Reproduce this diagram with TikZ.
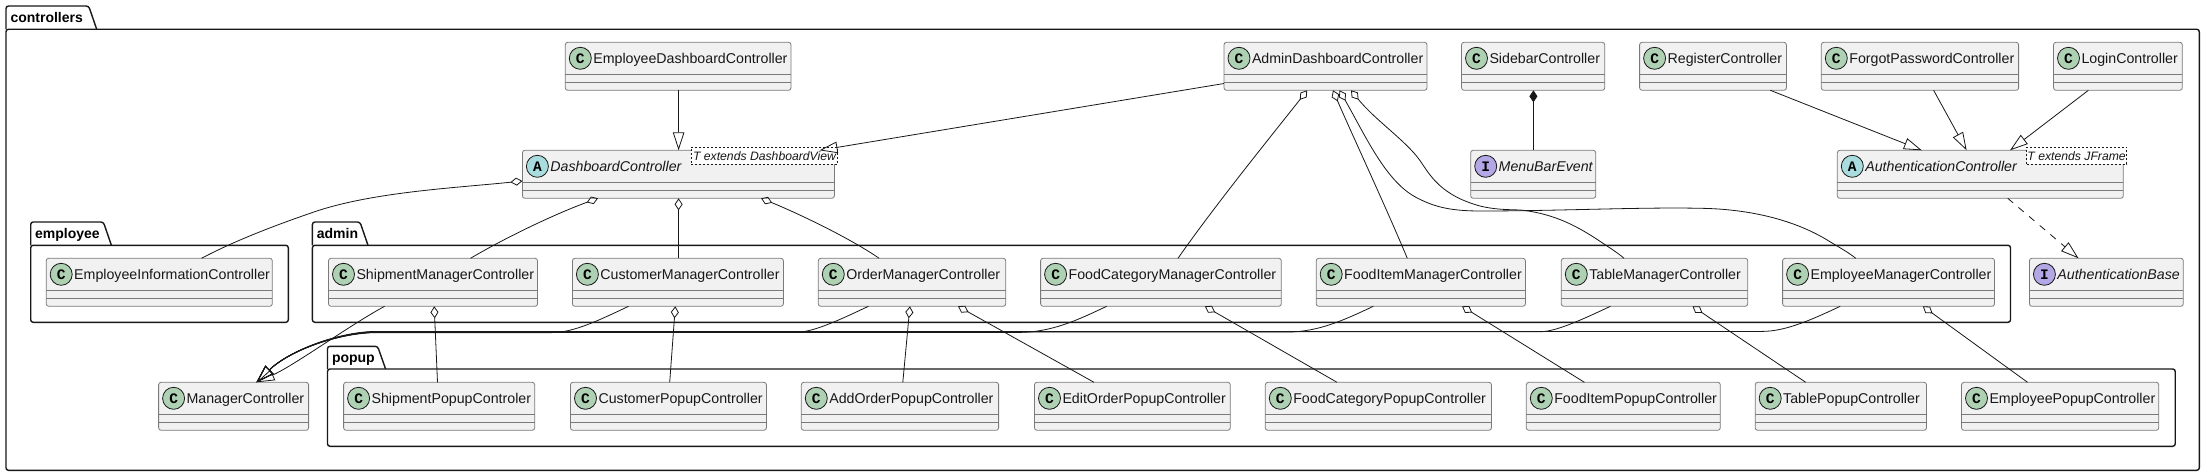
\documentclass[tikz,border=0pt]{standalone}
\usepackage{fontspec}
\setmainfont{Liberation Sans}
\setmonofont{Liberation Mono}
\usetikzlibrary{arrows.meta}
\definecolor{ink}{HTML}{181818}
\definecolor{boxfill}{HTML}{F1F1F1}
\definecolor{boxline}{HTML}{7A7A7A}
\definecolor{badgeC}{HTML}{ADD1B2}
\definecolor{badgeA}{HTML}{A9DCDF}
\definecolor{badgeI}{HTML}{B4A7E5}
\tikzset{
  classbox/.style={draw=boxline,fill=boxfill,line width=0.8pt,rounded corners=2.5pt,outer sep=0pt,
    inner ysep=0pt,inner xsep=28pt,text height=21pt,text depth=27pt,font=\fontsize{14.2}{16}\selectfont,text=ink},
  classsep/.style={draw=boxline,line width=0.8pt},
  badge/.style={circle,draw=ink,line width=0.8pt,minimum size=22pt,inner sep=0pt,outer sep=0pt,
    font=\fontsize{14.5}{16}\selectfont\ttfamily\bfseries,text=black},
  genericbox/.style={draw=ink,fill=white,line width=0.6pt,dash pattern=on 2pt off 2pt,inner sep=0pt,outer sep=0pt,
    font=\fontsize{12.2}{14}\selectfont\itshape,text=ink},
  pkgline/.style={draw=ink,line width=1.4pt,rounded corners=2.5pt},
  pkglabel/.style={anchor=base west,inner sep=0pt,outer sep=0pt,font=\fontsize{14}{16}\selectfont\bfseries,text=black},
  link/.style={draw=ink,line width=0.8pt},
  extlink/.style={link,-{Triangle[open,length=18pt,width=11.5pt]}},
  realink/.style={link,dash pattern=on 7pt off 7pt,-{Triangle[open,length=18pt,width=11.5pt]}},
  aggline/.style={link,{Diamond[open,length=12pt,width=8pt]}-},
  compline/.style={link,{Diamond[length=12pt,width=8pt,fill=ink]}-},
}
% name, x1, x2, y1, badge colour, letter, text
\newcommand{\classitem}[7]{%
  \pgfmathsetmacro{\cw}{#3-#2}\pgfmathsetmacro{\tw}{\cw-56}%
  \node[classbox,minimum width=\cw pt,minimum height=48pt] (#1) at ({(#2+#3)/2},{#4+24})
    {\makebox[\tw pt][l]{#7}};
  \draw[classsep] ([yshift=-32pt]#1.north west) -- ([yshift=-32pt]#1.north east);
  \draw[classsep] ([yshift=-40pt]#1.north west) -- ([yshift=-40pt]#1.north east);
  \node[badge,fill=#5] (#1b) at ({#2+15},{#4+16}) {#6};
}
% name, x1, x2, tab top, body top, bottom, tab right, label
\newcommand{\pkgitem}[8]{%
  \draw[pkgline] (#2,#5) -- (#2,#4) -- ({#7-8},#4) -- (#7,#5);
  \draw[pkgline] (#2,#5) -- (#3,#5) -- (#3,#6) -- (#2,#6) -- cycle;
  \node[pkglabel] (#1) at ({#2+4.5},{#4+16.6}) {#8};
}
% link from a manager class down into the bus that runs to ManagerController
\newcommand{\buslink}[4]{%
  \draw[extlink] (#1.south -| #2,0) .. controls ({#2-29},320) and ({#2-55},{#4}) .. (#3,#4)
    -- (377,#4) .. controls (340,#4) and (290,350) .. (mgr.north -| 256.5,0);
}
\begin{document}
\begin{tikzpicture}[x=1pt,y=-1pt]
\useasboundingbox (0,0) rectangle (2205,476);
\fill[white] (0,0) rectangle (2205,476);

\pkgitem{pcontrollers}{6}{2199.3}{6}{29.3}{470.3}{96.7}{controllers}
\pkgitem{pemployee}{30.7}{288.3}{222}{245.3}{322.3}{111.4}{employee}
\pkgitem{padmin}{312.4}{2010.5}{222}{245.3}{322.3}{368}{admin}
\pkgitem{ppopup}{327.5}{2175.2}{346.3}{369}{446.3}{385.6}{popup}

% row 1
\classitem{edc}{565.3}{791}{42.3}{badgeC}{C}{EmployeeDashboardController}
\classitem{adc}{1224}{1427}{42.3}{badgeC}{C}{AdminDashboardController}
\classitem{sbc}{1461.5}{1604.7}{42.3}{badgeC}{C}{SidebarController}
\classitem{reg}{1639.6}{1786.4}{42.3}{badgeC}{C}{RegisterController}
\classitem{fpc}{1821.3}{2018.6}{42.3}{badgeC}{C}{ForgotPasswordController}
\classitem{log}{2053.5}{2182.3}{42.3}{badgeC}{C}{LoginController}
% row 2
\classitem{dash}{522.4}{834.4}{150.3}{badgeA}{A}{\itshape DashboardController}
\classitem{mbe}{1470.7}{1595.7}{150.3}{badgeI}{I}{\itshape MenuBarEvent}
\classitem{auth}{1837.3}{2123.3}{150.3}{badgeA}{A}{\itshape AuthenticationController}
\node[genericbox,minimum width=146.3pt,minimum height=17.3pt] (dashg) at (764.5,155.7) {T extends DashboardView};
\node[genericbox,minimum width=100pt,minimum height=17.3pt] (authg) at (2076.6,155.7) {T extends JFrame};
% row 3
\classitem{einf}{46.2}{272.3}{258.3}{badgeC}{C}{EmployeeInformationController}
\classitem{ship}{328.5}{537.5}{258.3}{badgeC}{C}{ShipmentManagerController}
\classitem{cust}{572.4}{783.4}{258.3}{badgeC}{C}{CustomerManagerController}
\classitem{ordr}{818.3}{1005.7}{258.3}{badgeC}{C}{OrderManagerController}
\classitem{fcat}{1040.6}{1281.3}{258.3}{badgeC}{C}{FoodCategoryManagerController}
\classitem{fitm}{1316.2}{1525.4}{258.3}{badgeC}{C}{FoodItemManagerController}
\classitem{tabl}{1561.3}{1747.7}{258.3}{badgeC}{C}{TableManagerController}
\classitem{empl}{1782.6}{1994.5}{258.3}{badgeC}{C}{EmployeeManagerController}
\classitem{abase}{2029.4}{2183.3}{258.3}{badgeI}{I}{\itshape AuthenticationBase}
% row 4
\classitem{mgr}{158.6}{308.6}{382.3}{badgeC}{C}{ManagerController}
\classitem{pship}{343.6}{534.7}{382.3}{badgeC}{C}{ShipmentPopupControler}
\classitem{pcust}{570.5}{766.4}{382.3}{badgeC}{C}{CustomerPopupController}
\classitem{paddo}{801.3}{998.6}{382.3}{badgeC}{C}{AddOrderPopupController}
\classitem{pedit}{1034.5}{1230.3}{382.3}{badgeC}{C}{EditOrderPopupController}
\classitem{pfcat}{1265.3}{1491.4}{382.3}{badgeC}{C}{FoodCategoryPopupController}
\classitem{pfitm}{1526.3}{1720.3}{382.3}{badgeC}{C}{FoodItemPopupController}
\classitem{ptabl}{1755.2}{1926.5}{382.3}{badgeC}{C}{TablePopupController}
\classitem{pempl}{1961.5}{2158.7}{382.3}{badgeC}{C}{EmployeePopupController}

% generalisations
\draw[extlink] (edc.south -| 678.6,0) -- (dash.north -| 678.6,0);
\draw[extlink] (adc.west |- 0,83.5) -- (dash.north -| 819.5,0);
\draw[extlink] (reg.south -| 1770.3,0) -- (auth.north -| 1921.8,0);
\draw[extlink] (fpc.south -| 1933.6,0) -- (auth.north -| 1966.6,0);
\draw[extlink] (log.south -| 2088.4,0) -- (auth.north -| 2010,0);
\draw[realink] (auth.south -| 2007.7,0) -- (abase.north -| 2078.5,0);

% composition
\draw[compline] (sbc.south -| 1533.4,0) -- (mbe.north -| 1533.4,0);

% aggregations from DashboardController
\draw[aggline] (dash.west |- 0,181) .. controls (455,188) and (370,192) .. (311,213)
  .. controls (285,222) and (240,238) .. (einf.north -| 201.5,0);
\draw[aggline] (dash.south -| 598,0) .. controls (560,212) and (510,235) .. (ship.north -| 470.5,0);
\draw[aggline] (dash.south -| 678.6,0) -- (cust.north -| 678.6,0);
\draw[aggline] (dash.south -| 761,0) .. controls (790,210) and (845,235) .. (ordr.north -| 879.2,0);

% aggregations from AdminDashboardController
\draw[aggline] (adc.south -| 1307.2,0) .. controls (1280,125) and (1215,205) .. (fcat.north -| 1178,0);
\draw[aggline] (adc.south -| 1333,0) .. controls (1350,130) and (1385,205) .. (fitm.north -| 1407.3,0);
\draw[aggline] (adc.south -| 1351,0) .. controls (1375,120) and (1405,140) .. (1419.6,160)
  .. controls (1430,175) and (1440,195) .. (1480,206)
  .. controls (1500,211) and (1518,209) .. (1526.3,210.7)
  .. controls (1555,215) and (1575,225) .. (1597,239.3)
  .. controls (1610,248) and (1618,253) .. (tabl.north -| 1624,0);
\draw[aggline] (adc.south -| 1339.5,0) .. controls (1365,135) and (1385,180) .. (1414.8,196.7)
  .. controls (1432,206) and (1448,211) .. (1480,211)
  .. controls (1560,211) and (1640,207) .. (1701,208.3)
  .. controls (1745,209) and (1790,218) .. (1826,239.3)
  .. controls (1840,248) and (1848,252) .. (empl.north -| 1855.7,0);

% manager classes to ManagerController
\draw[extlink] (ship.south -| 384.6,0) .. controls (350,325) and (295,365) .. (mgr.north -| 256.5,0);
\buslink{cust}{628.6}{552}{332.6}
\buslink{ordr}{868.4}{796.6}{332.2}
\buslink{fcat}{1106.7}{1018.4}{332.4}
\buslink{fitm}{1373.3}{1287.4}{332}
\buslink{tabl}{1610.4}{1540.5}{331.7}
\buslink{empl}{1840.2}{1762.3}{331.4}

% manager classes to popups
\draw[aggline] (ship.south -| 434.2,0) -- (pship.north -| 437.5,0);
\draw[aggline] (cust.south -| 675.3,0) -- (pcust.north -| 669.7,0);
\draw[aggline] (ordr.south -| 909.9,0) -- (paddo.north -| 902.8,0);
\draw[aggline] (ordr.south -| 958,0) -- (pedit.north -| 1094,0);
\draw[aggline] (fcat.south -| 1204.8,0) -- (pfcat.north -| 1337,0);
\draw[aggline] (fitm.south -| 1462,0) -- (pfitm.north -| 1584.4,0);
\draw[aggline] (tabl.south -| 1692.5,0) -- (ptabl.north -| 1805.7,0);
\draw[aggline] (empl.south -| 1922.8,0) -- (pempl.north -| 2027.5,0);
\end{tikzpicture}
\end{document}
